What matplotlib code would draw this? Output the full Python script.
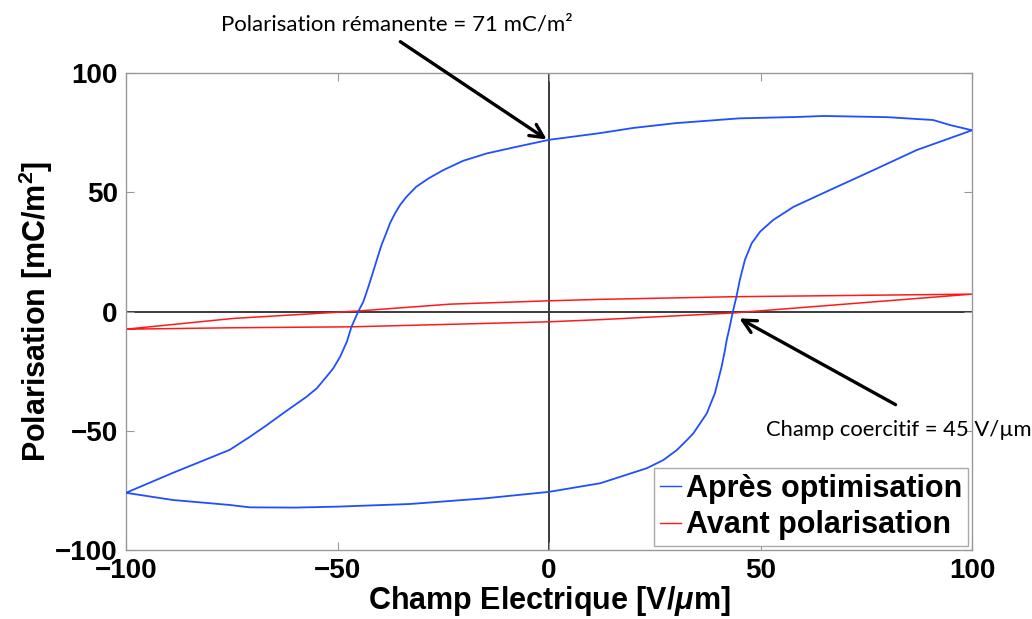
import matplotlib
matplotlib.use('Agg')
import matplotlib.pyplot as plt
import numpy as np

plt.rcParams['font.family'] = 'Liberation Sans'
plt.rcParams['font.weight'] = 'bold'
plt.rcParams['mathtext.fontset'] = 'custom'
plt.rcParams['mathtext.rm'] = 'Liberation Sans:bold'
plt.rcParams['mathtext.bf'] = 'Liberation Sans:bold'
plt.rcParams['mathtext.it'] = 'Liberation Sans:bold:italic'

# apres optimisation : branche descendante (E de +100 a -100)
up_E = [100, 94.8, 90.8, 80, 65, 59, 45, 30, 20, 12, 0, -7.6, -14.7, -20.3, -25.0, -28.5, -31.4,
        -33.7, -35.2, -36.4, -37.6, -38.5, -39.6, -40.6, -41.7, -42.7, -43.9, -45.1, -46.7, -47.8,
        -49.4, -51.0, -52.6, -54.9, -57.3, -62.9, -66.7, -70.7, -75.5, -89, -100]
up_P = [76, 78.2, 80.3, 81.5, 82, 81.6, 81, 79, 77, 74.8, 72, 69.1, 66.3, 63.2, 59.3, 55.8, 52.3,
        48.1, 44.7, 41.2, 37.0, 32.8, 27.9, 22.3, 16.0, 10.4, 4.1, 0, -6.4, -12.7,
        -19, -23.8, -27.3, -32.2, -35.7, -42.7, -47.6, -52.5, -58, -67.7, -76]
# branche montante (E de -100 a +100)
low_E = [-100, -89, -75.5, -70.7, -60, -50, -32.9, -15, 0, 12.1, 23.1, 27, 30.2, 32.6, 34.1, 35.7,
         37.3, 38.4, 39.2, 40, 40.8, 41.6, 42, 42.8, 43.4, 44.3, 45.1, 46.3, 47.9, 49.9, 53, 57.8,
         67.2, 76.7, 86.9, 100]
low_P = [-76, -79, -81.1, -82.1, -82.2, -81.8, -80.7, -78.3, -75.6, -72, -65.7, -62.3, -58.1, -53.9,
         -51.1, -46.9, -42.7, -37.8, -34.3, -28.7, -23.1, -16.1, -12, -5.7, -0.5, 6.2, 13.2, 21.6,
         28.6, 33.5, 38.4, 43.9, 51.6, 59.3, 67.7, 76]

# avant polarisation
red_a_E = [-100, -74.7, -45.4, -23.4, 0, 12, 43, 100]
red_a_P = [-7.4, -2.9, 0.2, 3.1, 4.5, 5.1, 6.2, 7.3]
red_b_E = [-100, -74.7, -46.6, 0, 12, 43.5, 100]
red_b_P = [-7.4, -6.8, -6.4, -4.3, -3.4, -0.6, 7.3]

ticks = [-100, -50, 0, 50, 100]

fig = plt.figure(figsize=(10.32, 6.19), dpi=100)
ax = fig.add_axes([0.1221, 0.1114, 0.8198, 0.7706])

ax.axhline(0, color='#3a3a3a', lw=1.4, zorder=1)
ax.axvline(0, color='#3a3a3a', lw=1.4, zorder=1)

ax.plot(up_E + low_E, up_P + low_P, color='#1f4fff', lw=1.3, label='Après optimisation', zorder=3)
ax.plot(red_a_E + red_b_E[::-1], red_a_P + red_b_P[::-1], color='#ff1a1a', lw=1.1,
        label='Avant polarisation', zorder=2)

ax.set_xlim(-100, 100)
ax.set_ylim(-100, 100)
ax.set_xticks(ticks)
ax.set_yticks(ticks)
ax.set_xticklabels([str(t).replace('-', '\u2212') for t in ticks])
ax.set_yticklabels([str(t).replace('-', '\u2212') for t in ticks])
ax.tick_params(direction='in', length=6, width=0.8, color='#999999', labelsize=20,
               top=True, right=True, pad=6)
for s in ax.spines.values():
    s.set_color('#999999')
    s.set_linewidth(1.0)

ax.set_xlabel(r'Champ Electrique [V/$\mu$m]', fontsize=22, fontweight='bold', labelpad=0)
ax.set_ylabel(r'Polarisation [mC/m$^2$]', fontsize=22, fontweight='bold', labelpad=0)

leg = ax.legend(loc='lower right', prop={'family': 'Liberation Sans', 'weight': 'bold', 'size': 22},
                handlelength=0.7, handletextpad=0.15,
                borderpad=0.2, labelspacing=0.2, borderaxespad=0.12, fancybox=False,
                framealpha=1)
leg.get_frame().set_edgecolor('#aaaaaa')
leg.get_frame().set_linewidth(1.0)
for h in leg.get_lines():
    h.set_linewidth(1.0)

arrow = dict(arrowstyle='->', color='black', lw=2.4, mutation_scale=24)
ax.annotate('', xy=(0, 71.5), xytext=(-35.7, 113.8), arrowprops=arrow, annotation_clip=False)
ax.annotate('', xy=(44.4, -2.3), xytext=(82.5, -39.6), arrowprops=arrow, annotation_clip=False)
ax.text(-36, 120.5, 'Polarisation rémanente = 71 mC/m²', fontsize=16, family='Lato',
        fontweight='normal', ha='center', va='center')
ax.text(51.3, -49.7, 'Champ coercitif = 45 V/µm', fontsize=15.8, family='Lato',
        fontweight='normal', ha='left', va='center')

fig.savefig('out.png', dpi=100)
